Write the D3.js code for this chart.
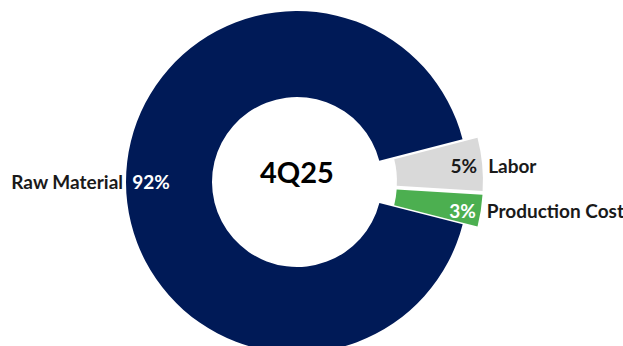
<!DOCTYPE html>
<html>
<head>
<meta charset="utf-8">
<script src="https://cdn.jsdelivr.net/npm/d3@7"></script>
<style>
  body { margin: 0; background: #fff; }
  text { font-family: Lato, "Open Sans", sans-serif; font-weight: bold; }
</style>
</head>
<body>
<div id="chart"></div>
<script>
const categories = ["Raw Material", "Labor", "Production Cost"];
const values = [92, 5, 3];
const colors = ["#001A57", "#D9D9D9", "#4CAF50"];
const exploded = [false, true, true];
const centerLabel = "4Q25";

const width = 623, height = 346;
const cx = 297, cy = 182;
const outerR = 171, innerR = 85, explode = 15;
const labelSize = "19px";

const svg = d3.select("#chart").append("svg").attr("width", width).attr("height", height);
const g = svg.append("g").attr("transform", `translate(${cx},${cy})`);

const startDeg = 104.3;
const pie = d3.pie().sort(null)
  .startAngle(startDeg * Math.PI / 180)
  .endAngle(startDeg * Math.PI / 180 + 2 * Math.PI);
const arc = d3.arc().innerRadius(innerR).outerRadius(outerR);

const data = categories.map((c, i) => ({ name: c, value: values[i], color: colors[i], exploded: exploded[i] }));
const arcs = pie.value((d) => d.value)(data);

function offset(a) {
  if (!a.data.exploded) return [0, 0];
  const mid = (a.startAngle + a.endAngle) / 2;
  return [explode * Math.sin(mid), -explode * Math.cos(mid)];
}

g.selectAll("path.slice")
  .data(arcs)
  .join("path")
  .attr("class", "slice")
  .attr("d", arc)
  .attr("fill", (d) => d.data.color)
  .attr("transform", (d) => `translate(${offset(d)})`);

// percent + name labels
arcs.forEach((a) => {
  const mid = (a.startAngle + a.endAngle) / 2;
  const [ox, oy] = offset(a);
  const pctColor = a.data.color === "#D9D9D9" ? "#1a1a1a" : "#fff";
  if (a.data.exploded) {
    const r = outerR - 5;
    const x = ox + r * Math.sin(mid);
    const y = oy - r * Math.cos(mid) + 1;
    g.append("text").attr("x", x).attr("y", y).attr("dy", "0.36em")
      .attr("text-anchor", "end").attr("fill", pctColor).style("font-size", labelSize)
      .text(`${a.data.value}%`);
    g.append("text").attr("x", x + 11).attr("y", y).attr("dy", "0.36em")
      .attr("text-anchor", "start").attr("fill", "#1a1a1a").style("font-size", labelSize)
      .text(a.data.name);
  } else {
    const r = outerR - 25;
    const x = r * Math.sin(mid);
    const y = -r * Math.cos(mid);
    g.append("text").attr("x", x).attr("y", y).attr("dy", "0.36em")
      .attr("text-anchor", "middle").attr("fill", pctColor).style("font-size", labelSize)
      .text(`${a.data.value}%`);
    g.append("text").attr("x", -outerR - 3).attr("y", y).attr("dy", "0.36em")
      .attr("text-anchor", "end").attr("fill", "#1a1a1a").style("font-size", labelSize)
      .text(a.data.name);
  }
});

g.append("text").attr("x", 0).attr("y", -9).attr("dy", "0.36em")
  .attr("text-anchor", "middle").attr("fill", "#000").style("font-size", "29px")
  .text(centerLabel);
</script>
</body>
</html>
